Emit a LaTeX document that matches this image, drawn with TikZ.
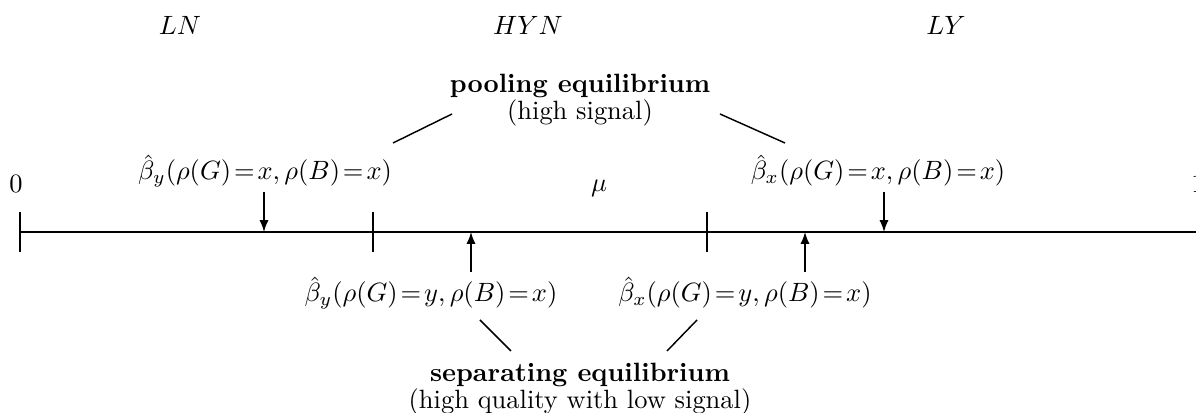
\documentclass[tikz,border=0pt]{standalone}
\usetikzlibrary{arrows}
\newcommand{\teq}{\!=\!}
\begin{document}
\begin{tikzpicture}[x=0.378pt,y=-0.378pt,line width=0.55pt,
  lbl/.style={anchor=base,inner sep=0pt,outer sep=0pt},
  eqlbl/.style={anchor=base,inner sep=0pt,outer sep=0pt,align=center},
  ptr/.style={-latex},
  conn/.style={}]
\useasboundingbox (0,0) rectangle (1196,413);
% region labels
\node[lbl] (ln)  at (180,35) {$LN$};
\node[lbl] (hyn) at (528,35) {$HYN$};
\node[lbl] (ly)  at (946,35) {$LY$};
% axis
\coordinate (a0) at (20,232);
\coordinate (a1) at (1202,232);
\draw (a0) -- (a1);
\draw (20,212) -- (20,252);
\draw (373,212) -- (373,252);
\draw (707,212) -- (707,252);
\node[lbl] (zero) at (16,193) {$0$};
\node[lbl] (one)  at (1198,193) {$1$};
\node[lbl] (mu)   at (599,192) {$\mu$};
% upper labels
\node[lbl] (by1) at (265,180) {$\hat\beta_y(\rho(G)\teq x,\rho(B)\teq x)$};
\node[lbl] (bx1) at (878,180) {$\hat\beta_x(\rho(G)\teq x,\rho(B)\teq x)$};
% lower labels
\node[lbl] (by2) at (431,302) {$\hat\beta_y(\rho(G)\teq y,\rho(B)\teq x)$};
\node[lbl] (bx2) at (745,302) {$\hat\beta_x(\rho(G)\teq y,\rho(B)\teq x)$};
% arrows
\coordinate (d1s) at (264,192); \coordinate (d1e) at (264,232);
\coordinate (d2s) at (884,192); \coordinate (d2e) at (884,232);
\coordinate (u1s) at (471,272); \coordinate (u1e) at (471,232);
\coordinate (u2s) at (805,272); \coordinate (u2e) at (805,232);
\draw[ptr] (d1s) -- (d1e);
\draw[ptr] (d2s) -- (d2e);
\draw[ptr] (u1s) -- (u1e);
\draw[ptr] (u2s) -- (u2e);
% pooling
\node[eqlbl] (pool) at (580,120) {\textbf{pooling equilibrium}\\[-1.6pt](high signal)};
\coordinate (p1a) at (452,114); \coordinate (p1b) at (393,143);
\coordinate (p2a) at (720,114); \coordinate (p2b) at (785,143);
\draw[conn] (p1a) -- (p1b);
\draw[conn] (p2a) -- (p2b);
% separating
\node[eqlbl] (sep) at (580,409) {\textbf{separating equilibrium}\\[-1.6pt](high quality with low signal)};
\coordinate (s1a) at (480,320); \coordinate (s1b) at (511,351);
\coordinate (s2a) at (697,320); \coordinate (s2b) at (667,351);
\draw[conn] (s1a) -- (s1b);
\draw[conn] (s2a) -- (s2b);
\end{tikzpicture}
\end{document}
